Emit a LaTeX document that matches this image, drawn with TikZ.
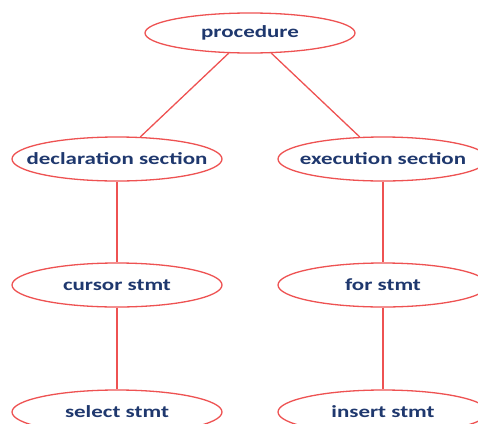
\documentclass[tikz,border=0pt]{standalone}
\usepackage{fontspec}
\setsansfont{Carlito}[FakeStretch=1.35]
\usetikzlibrary{shapes.geometric}
\definecolor{edgered}{RGB}{238,82,82}
\definecolor{labelnavy}{RGB}{31,56,110}
\newcommand{\nodetext}[1]{\makebox[0pt]{#1}}
\begin{document}
\begin{tikzpicture}[x=1pt,y=-1pt,
  treenode/.style={ellipse, draw=edgered, line width=1.3pt, fill=white,
    minimum width=210pt, minimum height=44pt, inner sep=0pt,
    font=\sffamily\bfseries\fontsize{17}{20}\selectfont, text=labelnavy},
  link/.style={draw=edgered, line width=1.3pt}]
  \useasboundingbox (0,0) rectangle (478,423);
  \node[treenode, minimum height=40pt] (proc) at (250,33) {\nodetext{procedure}};
  \node[treenode] (decl) at (117,159) {\nodetext{declaration section}};
  \node[treenode] (exec) at (383,159) {\nodetext{execution section}};
  \node[treenode] (cursor) at (117,285) {\nodetext{cursor stmt}};
  \node[treenode] (forst) at (383,285) {\nodetext{for stmt}};
  \node[treenode] (select) at (117,412) {\nodetext{select stmt}};
  \node[treenode] (insert) at (383,412) {\nodetext{insert stmt}};
  \draw[link] (proc) -- (decl);
  \draw[link] (proc) -- (exec);
  \draw[link] (decl) -- (cursor);
  \draw[link] (cursor) -- (select);
  \draw[link] (exec) -- (forst);
  \draw[link] (forst) -- (insert);
\end{tikzpicture}
\end{document}
